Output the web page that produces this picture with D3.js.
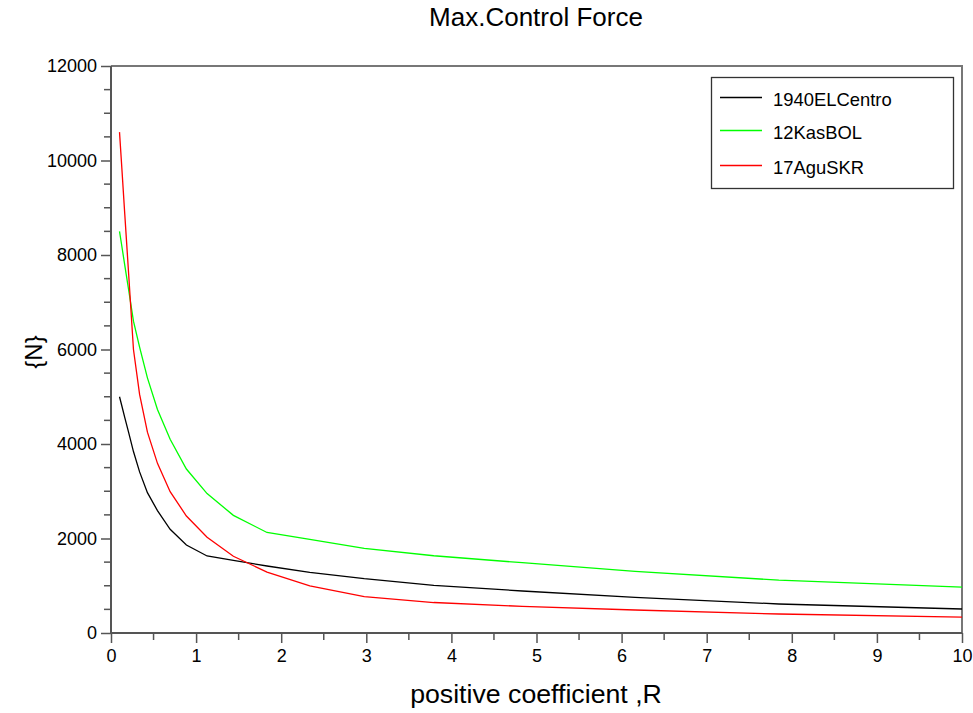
<!DOCTYPE html>
<html>
<head>
<meta charset="utf-8">
<script src="https://cdn.jsdelivr.net/npm/d3@7"></script>
<style>
  html, body { margin: 0; padding: 0; background: #fff; }
  svg { display: block; }
  text { font-family: "Liberation Sans", Arial, Helvetica, sans-serif; fill: #000; }
</style>
</head>
<body>
<svg id="chart" width="973" height="713"></svg>
<script>
// positive coefficient R (sample points)
const rValues = [0.1, 0.127, 0.162, 0.207, 0.264, 0.336, 0.428, 0.546, 0.695, 0.886,
                 1.129, 1.438, 1.833, 2.336, 2.976, 3.793, 4.833, 6.158, 7.848, 10];

// maximum control force [N] for each record
const elCentro = [5000, 4810, 4560, 4245, 3840, 3410, 2970, 2590, 2195, 1862,
                  1630, 1538, 1418, 1284, 1149, 1010, 889, 755, 614, 508];
const kasBOL   = [8500, 8190, 7780, 7265, 6600, 6050, 5400, 4730, 4100, 3470,
                  2950, 2490, 2127, 1982, 1792, 1635, 1488, 1305, 1118, 973];
const aguSKR   = [10600, 9850, 8860, 7610, 6000, 5050, 4250, 3590, 2990, 2476,
                   2025, 1625, 1290, 995, 768, 645, 564, 487, 402, 335];

const seriesNames  = ["1940ELCentro", "12KasBOL", "17AguSKR"];
const seriesColors = ["#000000", "#00ff00", "#ff0000"];
const seriesValues = [elCentro, kasBOL, aguSKR];

const xTicks = [0, 1, 2, 3, 4, 5, 6, 7, 8, 9, 10];
const yTicks = [0, 2000, 4000, 6000, 8000, 10000, 12000];

const svg = d3.select("#chart");
const plotL = 111, plotR = 962, plotT = 66, plotB = 633;

const x = d3.scaleLinear().domain([0, 10]).range([plotL, plotR]);
const y = d3.scaleLinear().domain([0, 12000]).range([plotB, plotT]);

// frame (top and right)
svg.append("path")
  .attr("d", `M${plotL},${plotT}H${plotR}V${plotB}`)
  .attr("fill", "none").attr("stroke", "#777").attr("stroke-width", 2);

// minor ticks
const xMinor = d3.range(0, 10.01, 0.5).filter(v => v % 1 !== 0);
const yMinor = d3.range(0, 12001, 500).filter(v => v % 2000 !== 0);

const gx = svg.append("g").attr("transform", `translate(0,${plotB})`);
gx.call(d3.axisBottom(x).tickValues(xTicks).tickFormat(d3.format("d")).tickSize(10).tickPadding(6));
gx.selectAll("line.minor").data(xMinor).enter().append("line")
  .attr("class", "minor").attr("x1", d => x(d)).attr("x2", d => x(d))
  .attr("y1", 0).attr("y2", 7);

const gy = svg.append("g").attr("transform", `translate(${plotL},0)`);
gy.call(d3.axisLeft(y).tickValues(yTicks).tickFormat(d3.format("d")).tickSize(10).tickPadding(4));
gy.selectAll("line.minor").data(yMinor).enter().append("line")
  .attr("class", "minor").attr("y1", d => y(d)).attr("y2", d => y(d))
  .attr("x1", 0).attr("x2", -7);

[gx, gy].forEach(g => {
  g.select(".domain").attr("stroke", "#555").attr("stroke-width", 2);
  g.selectAll("line").attr("stroke", "#555").attr("stroke-width", 1.5);
  g.selectAll("text").attr("font-size", 18).attr("fill", "#000")
    .style("font-family", '"Liberation Sans", Arial, sans-serif');
});
gx.select(".domain").attr("d", `M${plotL},0H${plotR}`);
gy.select(".domain").attr("d", `M0,${plotB}V${plotT}`);

// curves
const line = d3.line().x((d, i) => x(rValues[i])).y(d => y(d));
seriesValues.forEach((vals, k) => {
  svg.append("path").datum(vals)
    .attr("d", line).attr("fill", "none")
    .attr("stroke", seriesColors[k]).attr("stroke-width", 1.3);
});

// title and axis labels
svg.append("text").attr("x", 536).attr("y", 26).attr("text-anchor", "middle")
  .attr("font-size", 26).text("Max.Control Force");
svg.append("text").attr("x", 536).attr("y", 703).attr("text-anchor", "middle")
  .attr("font-size", 26.7).text("positive coefficient ,R");
svg.append("text").attr("transform", "translate(42,352) rotate(-90)")
  .attr("text-anchor", "middle").attr("font-size", 24).text("{N}");

// legend
const lg = svg.append("g");
lg.append("rect").attr("x", 711.5).attr("y", 77.5).attr("width", 242).attr("height", 111)
  .attr("fill", "#fff").attr("stroke", "#333").attr("stroke-width", 1.3);
const rowY = [97.5, 130.5, 165.5];
seriesNames.forEach((name, k) => {
  lg.append("line").attr("x1", 720).attr("x2", 762).attr("y1", rowY[k]).attr("y2", rowY[k])
    .attr("stroke", seriesColors[k]).attr("stroke-width", 1.3);
  lg.append("text").attr("x", 773).attr("y", rowY[k] + 8.5).attr("font-size", 18.4).text(name);
});
</script>
</body>
</html>
